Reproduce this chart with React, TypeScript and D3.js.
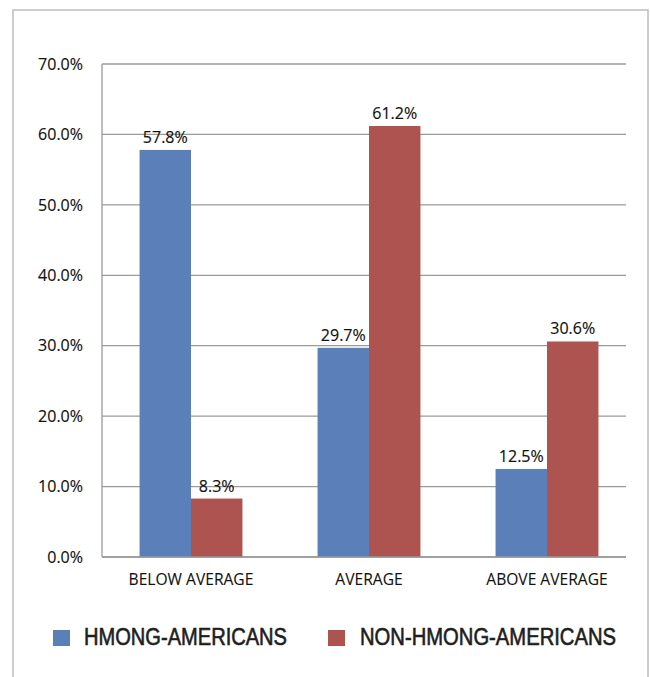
import React from "react";
import * as d3 from "d3";

const categories = ["BELOW AVERAGE", "AVERAGE", "ABOVE AVERAGE"];
const seriesNames = ["HMONG-AMERICANS", "NON-HMONG-AMERICANS"];
const hmong = [57.8, 29.7, 12.5];
const nonHmong = [8.3, 61.2, 30.6];
const yTicks = [0, 10, 20, 30, 40, 50, 60, 70];
const colors = ["#5B7FB8", "#AD5350"];

const W = 650;
const H = 677;
const plotLeft = 102;
const plotTop = 64;
const plotBottom = 557;
const gridRight = 626;

export default function App() {
  const series = [hmong, nonHmong];
  const y = d3.scaleLinear().domain([0, 70]).range([plotBottom, plotTop]);
  const x0 = d3.scaleBand<string>().domain(categories).range([plotLeft, 636]).paddingInner(0).paddingOuter(0);
  const x1 = d3
    .scaleBand<number>()
    .domain([0, 1])
    .range([0, x0.bandwidth()])
    .paddingOuter(0.73)
    .paddingInner(0);
  const numFont = "'Open Sans', sans-serif";
  const legendFont = "'Liberation Sans', Arial, sans-serif";
  const legendItems = [
    { x: 53, tx: 84, len: 203 },
    { x: 328, tx: 360, len: 256 },
  ];

  return (
    <svg
      width={W}
      height={H}
      style={{ position: "absolute", left: 0, top: 0, background: "#fff" }}
    >
      <rect x={13} y={10} width={635} height={700} fill="#fff" stroke="#bdbdbd" strokeWidth={1.5} />

      {yTicks.map((t) => (
        <g key={t}>
          <line x1={plotLeft} x2={gridRight} y1={y(t)} y2={y(t)} stroke="#9a9a9a" strokeWidth={1.3} />
          <text
            x={83}
            y={y(t)}
            dy="0.36em"
            textAnchor="end"
            fontFamily={numFont}
            fontSize={16}
            fill="#111"
            stroke="#111"
            strokeWidth={0.15}
          >
            {t.toFixed(1)}%
          </text>
        </g>
      ))}
      <line x1={plotLeft} x2={plotLeft} y1={plotTop} y2={plotBottom} stroke="#9a9a9a" strokeWidth={1.3} />

      {categories.map((c, ci) => (
        <g key={c} transform={`translate(${x0(c)},0)`}>
          {series.map((s, si) => (
            <g key={si}>
              <rect
                x={x1(si)}
                y={y(s[ci])}
                width={x1.bandwidth()}
                height={y(0) - y(s[ci])}
                fill={colors[si]}
              />
              <text
                x={(x1(si) as number) + x1.bandwidth() / 2}
                y={y(s[ci]) - 7}
                textAnchor="middle"
                fontFamily={numFont}
                fontSize={16}
                fill="#111"
                stroke="#111"
                strokeWidth={0.15}
              >
                {s[ci].toFixed(1)}%
              </text>
            </g>
          ))}
          <text
            x={x0.bandwidth() / 2}
            y={585}
            textAnchor="middle"
            fontFamily={numFont}
            fontSize={15.6}
            fill="#111"
            stroke="#111"
            strokeWidth={0.1}
          >
            {c}
          </text>
        </g>
      ))}
      <line x1={plotLeft} x2={gridRight} y1={plotBottom} y2={plotBottom} stroke="#9a9a9a" strokeWidth={1.3} />

      {seriesNames.map((name, i) => (
        <g key={name}>
          <rect x={legendItems[i].x} y={630} width={17} height={16} fill={colors[i]} />
          <text
            x={legendItems[i].tx}
            y={645}
            fontFamily={legendFont}
            fontSize={23}
            textLength={legendItems[i].len}
            lengthAdjust="spacingAndGlyphs"
            fill="#1e1e1e"
            stroke="#1e1e1e"
            strokeWidth={0.6}
          >
            {name}
          </text>
        </g>
      ))}
    </svg>
  );
}
